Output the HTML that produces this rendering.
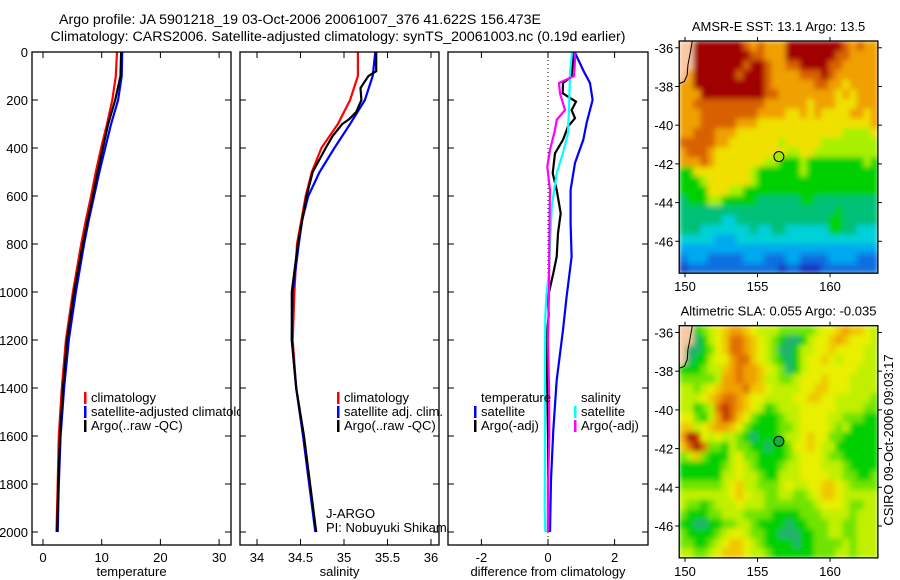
<!DOCTYPE html>
<html><head><meta charset="utf-8"><style>
body{margin:0;background:#fff;}
svg{display:block;font-family:"Liberation Sans",sans-serif;}
</style></head><body>
<svg id="chart" width="900" height="580" viewBox="0 0 900 580" xmlns="http://www.w3.org/2000/svg">
<defs>
<filter id="smooth" x="-5%" y="-5%" width="110%" height="110%"><feGaussianBlur stdDeviation="2.6" edgeMode="duplicate"/></filter>
<clipPath id="clip1"><rect x="679.2" y="41" width="198.7" height="232.2"/></clipPath>
<clipPath id="clip2"><rect x="679.2" y="325.7" width="198.7" height="232.2"/></clipPath>
</defs>
<rect width="900" height="580" fill="#fff"/>
<text x="300" y="24" font-size="14.2" text-anchor="middle">Argo profile: JA 5901218_19 03-Oct-2006 20061007_376 41.622S 156.473E</text>
<text x="338" y="41" font-size="14.2" text-anchor="middle">Climatology: CARS2006. Satellite-adjusted climatology: synTS_20061003.nc (0.19d earlier)</text>
<g id="plots"></g>
</svg>
<script>
// ---- data ----
const depthLevels=[0,100,200,300,400,500,600,700,800,1000,1200,1400,1600,1800,2000];
const tempClim=[12.6,12.4,11.8,10.9,9.9,9.0,8.2,7.3,6.5,5.1,3.9,3.2,2.7,2.5,2.3];
const tempSat=[13.5,13.4,12.8,11.6,10.6,9.6,8.7,7.8,7.0,5.6,4.4,3.6,3.0,2.7,2.5];
const tempArgo=[13.3,13.2,12.3,11.1,10.2,9.3,8.5,7.6,6.8,5.3,4.1,3.4,2.9,2.6,2.4];
const salClim=[35.16,35.16,35.07,34.93,34.74,34.63,34.56,34.51,34.46,34.43,34.41,34.45,34.53,34.60,34.68];
const salSat=[35.36,35.33,35.24,35.07,34.89,34.72,34.59,34.52,34.48,34.41,34.40,34.45,34.53,34.60,34.67];
const salArgoDepth=[0,80,100,150,200,250,280,300,350,400,500,600,800,1000,1200,1400,1600,1800,2000];
const salArgo=[35.37,35.37,35.28,35.19,35.20,35.14,35.06,34.98,34.87,34.79,34.64,34.57,34.47,34.40,34.40,34.45,34.54,34.61,34.68];
const dTsatDepth=[0,83,129,200,296,366,462,575,714,853,1020,1158,1367,1575,1783,2000];
const dTsat=[0.8,1.08,1.26,1.34,1.16,1.06,0.81,0.68,0.68,0.71,0.56,0.45,0.26,0.16,0.09,0.06];
const dSsatDepth=[0,88,200,338,420,505,645,800,920,1000,1100,1300,1600,1900,2000];
const dSsat=[0.72,0.66,0.64,0.6,0.45,0.26,0.11,0.06,0.03,-0.04,-0.08,-0.09,-0.09,-0.1,-0.08];
const dTargoDepth=[0,35,103,129,172,207,242,276,311,366,422,505,575,672,755,853,922,1020,1100,1200,1400,1600,1800,2000];
const dTargo=[0.78,0.75,0.71,0.45,0.44,0.84,0.71,0.81,0.6,0.45,0.21,0.14,0.26,0.38,0.30,0.26,0.16,0.0,0.02,-0.05,-0.02,0.0,0.0,0.0];
const dSargoDepth=[0,35,100,129,172,242,283,325,408,478,575,650,800,1000,1200,1400,1600,1800,2000];
const dSargo=[0.8,0.81,0.78,0.33,0.36,0.51,0.26,0.21,0.06,-0.02,0.06,0.05,0.04,0.03,0.0,0.03,0.04,0.0,0.0];
const depthTicks=[0,200,400,600,800,1000,1200,1400,1600,1800,2000];
const tempTicks=[0,10,20,30];
const salTicks=[34,34.5,35,35.5,36];
const diffTicks=[-2,0,2];
const lonTicks=[150,155,160];
const latTicks=[-36,-38,-40,-42,-44,-46];
const argoLon=156.473, argoLat=-41.622;
const sstGrid=[
"LLAAAAAAA989888AAAAAAAA98988","LLAAAAAAAA99888AAAAAAA998888","LLAAAAAAA9AA98899AAAA9988888",
"L8AAAAAA9AAA98888999A9888888","88AAAAAAAAAA9888888998878888","888AAAAAAAAA9988888888787888",
"8899999999998888887888777888","8889999999988887787877778878","8889999988877777777777777778",
"8899988877777777777777766667","9999988777777767777766666666","8999877777777776677666666666",
"8889877777776655565555555565","5577777777655555565555555555","5556777777655555555555555555",
"5555777665555555555555555555","4555665555544444455444444444","4444444444444444444444544444",
"4444443344444444444445544444","4443333333433443333335544333","3333322233333333333333333333",
"2222222222222222222222222222","1222111112221112211112222111","0111111111111101100011111111"];
const slaGrid=[
"LL23456776544433333455676654","LL12456887654321124556765554","L112356887654311244556555544",
"L122455788654321245565455544","2223446787765431245555555444","3333347787764433455565554444",
"4434567778665444455665554444","4445678876554444556655444443","4423489876542344455555444433",
"5532479865322234455554433322","6645677653222233455554342222","7A95454432122234456553322222",
"68A8332433221223556544222222","3463222453322223455543322222","2222223454322234455544432222",
"2222224454432244455554433223","3333334564433345445566543333","4444444565443344334566544444",
"4332344454443333333455543344","3222334443333222233344443444","2211223344322221223334433444",
"3222234554332211122334433444","3322345665432222122333343444","4433456665443222222333443444"];
const sstPalette={"0":"#1838c0","1":"#0870e0","2":"#00a8f0","3":"#00d0d8","4":"#00c078","5":"#00d000","6":"#a8f000","7":"#f0e000","8":"#f0a000","9":"#d86000","A":"#a00000","L":"#f8c8a0"};
const slaPalette={"1":"#20b070","2":"#00d000","3":"#70e400","4":"#c0f000","5":"#e8f000","6":"#f0c800","7":"#f0a000","8":"#e07000","9":"#c03000","A":"#a00000","L":"#f8c8a0"};

// ---- helpers ----
const NS="http://www.w3.org/2000/svg";
const root=document.getElementById('plots');
function mk(tag,attrs,parent){const e=document.createElementNS(NS,tag);for(const k in attrs)e.setAttribute(k,attrs[k]);(parent||root).appendChild(e);return e;}
const PT=52,PB=545;
const yD=d=>PT+d*0.24;
const xT=t=>43+5.87*t;
const xS=s=>257+87*(s-34);
const xDf=v=>548+33.3*v;

function panel(name,L,R){
  const g=mk('g',{});
  
  
  mk('rect',{x:L,y:PT,width:R-L,height:PB-PT,fill:'#fff'},g);
  return g;
}
function frame(g,L,R,xf,ticks,xlabel){
  const fr=mk('rect',{x:L,y:PT,width:R-L,height:PB-PT,fill:'none',stroke:'#000','stroke-width':1.3},g);
  
  
  depthTicks.forEach(d=>{
    mk('line',{x1:L,x2:L+6,y1:yD(d),y2:yD(d),stroke:'#000'},g);
    mk('line',{x1:R-6,x2:R,y1:yD(d),y2:yD(d),stroke:'#000'},g);
  });
  ticks.forEach(t=>{
    const x=xf(t);
    mk('line',{x1:x,x2:x,y1:PT,y2:PT+6,stroke:'#000'},g);
    mk('line',{x1:x,x2:x,y1:PB-6,y2:PB,stroke:'#000'},g);
    const tl=mk('text',{x:x,y:PB+17,'font-size':13,'text-anchor':'middle'},g);
    tl.textContent=String(t);
    
    
  });
  const xl=mk('text',{x:(L+R)/2,y:576,'font-size':13,'text-anchor':'middle'},g);
  xl.textContent=xlabel;
  
  
}
function line(g,xs,ds,xf,color,name){
  const pts=xs.map((v,i)=>xf(v).toFixed(1)+','+yD(ds[i]).toFixed(1)).join(' ');
  const p=mk('polyline',{points:pts,fill:'none',stroke:color,'stroke-width':2.2},g);
  
  
}
function legend(g,x,y,color,label){
  if(color){mk('rect',{x:x,y:y-10,width:2.5,height:12,fill:color},g);}
  const t=mk('text',{x:x+7,y:y,'font-size':13},g);
  t.textContent=label;
  
  
}

// ---- panel 1: temperature ----
const g1=panel('temperature-panel',32,231);
line(g1,tempClim,depthLevels,xT,'#ff0000','temp-climatology-line');
line(g1,tempSat,depthLevels,xT,'#0000ff','temp-satellite-line');
line(g1,tempArgo,depthLevels,xT,'#000','temp-argo-line');
legend(g1,84,402,'#ff0000','climatology');
legend(g1,84,416,'#0000ff','satellite-adjusted climatology');
legend(g1,84,430,'#000','Argo(..raw -QC)');
depthTicks.forEach(d=>{
  const t=mk('text',{x:28,y:yD(d)+5,'font-size':13,'text-anchor':'end'});
  t.textContent=String(d);
  
  
});
// ---- panel 2: salinity ----
const g2=panel('salinity-panel',240,439);
line(g2,salClim,depthLevels,xS,'#ff0000','sal-climatology-line');
line(g2,salSat,depthLevels,xS,'#0000ff','sal-satellite-line');
line(g2,salArgo,salArgoDepth,xS,'#000','sal-argo-line');
legend(g2,337,402,'#ff0000','climatology');
legend(g2,337,416,'#0000ff','satellite adj. clim.');
legend(g2,337,430,'#000','Argo(..raw -QC)');
const ja=mk('text',{x:326,y:518,'font-size':13},g2);ja.textContent='J-ARGO';


const pi=mk('text',{x:326,y:532,'font-size':13},g2);pi.textContent='PI: Nobuyuki Shikama';


// ---- panel 3: differences ----
const g3=panel('difference-panel',448,648);
mk('line',{x1:xDf(0),x2:xDf(0),y1:PT,y2:PB,stroke:'#000','stroke-dasharray':'1,3'},g3);
line(g3,dTsat,dTsatDepth,xDf,'#0000ff','dtemp-satellite-line');
line(g3,dTargo,dTargoDepth,xDf,'#000','dtemp-argo-line');
line(g3,dSsat,dSsatDepth,xDf,'#00ffff','dsal-satellite-line');
line(g3,dSargo,dSargoDepth,xDf,'#ff00ff','dsal-argo-line');
legend(g3,474,402,null,'temperature');
legend(g3,474,416,'#0000ff','satellite');
legend(g3,474,430,'#000','Argo(-adj)');
legend(g3,574,402,null,'salinity');
legend(g3,574,416,'#00ffff','satellite');
legend(g3,574,430,'#ff00ff','Argo(-adj)');
frame(g1,32,231,xT,tempTicks,'temperature');
frame(g2,240,439,xS,salTicks,'salinity');
frame(g3,448,648,xDf,diffTicks,'difference from climatology');

// ---- maps ----
const ML=679.2,MR=877.9,LON0=149.6,LONW=13.7,LAT0=-35.65,LATH=12;
function map(name,top,grid,pal,title,titleName,markColor,clipId){
  const g=mk('g',{});
  
  
  const H=LATH*19.35;
  const lx=lon=>ML+(lon-LON0)/LONW*(MR-ML);
  const ly=lat=>top+(LAT0-lat)/LATH*H;
  const rows=grid.length, cols=28;
  const cw=(MR-ML)/cols, ch=H/rows;
  const clipG=mk('g',{'clip-path':'url(#'+clipId+')'},g);
  const cells=mk('g',{filter:'url(#smooth)'},clipG);
  
  
  grid.forEach((row,r)=>{
    for(let c=0;c<cols;c++){
      const k=row[Math.min(c,row.length-1)];
      mk('rect',{x:(ML+c*cw).toFixed(2),y:(top+r*ch).toFixed(2),width:(cw+0.6).toFixed(2),height:(ch+0.6).toFixed(2),fill:pal[k]||'#fff'},cells);
    }
  });
  const coast=[[150.5,-35.65],[150.35,-36.3],[150.2,-36.9],[150.15,-37.4],[149.95,-37.75],[149.6,-37.85]];
  mk('polyline',{points:coast.map(p=>lx(p[0]).toFixed(1)+','+ly(p[1]).toFixed(1)).join(' '),fill:'none',stroke:'#000','stroke-width':1},g);
  const fr=mk('rect',{x:ML,y:top,width:MR-ML,height:H,fill:'none',stroke:'#000','stroke-width':1.3},g);
  
  
  latTicks.forEach(v=>{
    const y=ly(v);
    mk('line',{x1:ML-4,x2:ML,y1:y,y2:y,stroke:'#000'},g);
    mk('line',{x1:MR,x2:MR+4,y1:y,y2:y,stroke:'#000'},g);
    const t=mk('text',{x:ML-6,y:y+5,'font-size':13,'text-anchor':'end'},g);
    t.textContent=String(v);
    
    
  });
  lonTicks.forEach(v=>{
    const x=lx(v);
    mk('line',{x1:x,x2:x,y1:top-4,y2:top,stroke:'#000'},g);
    mk('line',{x1:x,x2:x,y1:top+H,y2:top+H+4,stroke:'#000'},g);
    const t=mk('text',{x:x,y:top+H+18,'font-size':13,'text-anchor':'middle'},g);
    t.textContent=String(v);
    
    
  });
  const tt=mk('text',{x:(ML+MR)/2,y:top-10,'font-size':13,'text-anchor':'middle'},g);
  tt.textContent=title;
  
  
  const m=mk('circle',{cx:lx(argoLon),cy:ly(argoLat),r:5,fill:markColor,stroke:'#000','stroke-width':1},g);
  
  
}
map('sst-map',41,sstGrid,sstPalette,'AMSR-E SST: 13.1 Argo: 13.5','sst-map-title','#a8e800','clip1');
map('sla-map',325.7,slaGrid,slaPalette,'Altimetric SLA: 0.055 Argo: -0.035','sla-map-title','#10b040','clip2');
const cs=mk('text',{x:0,y:0,'font-size':13,'text-anchor':'middle',transform:'translate(893,440) rotate(-90)'});
cs.textContent='CSIRO 09-Oct-2006 09:03:17';


</script>
</body></html>
